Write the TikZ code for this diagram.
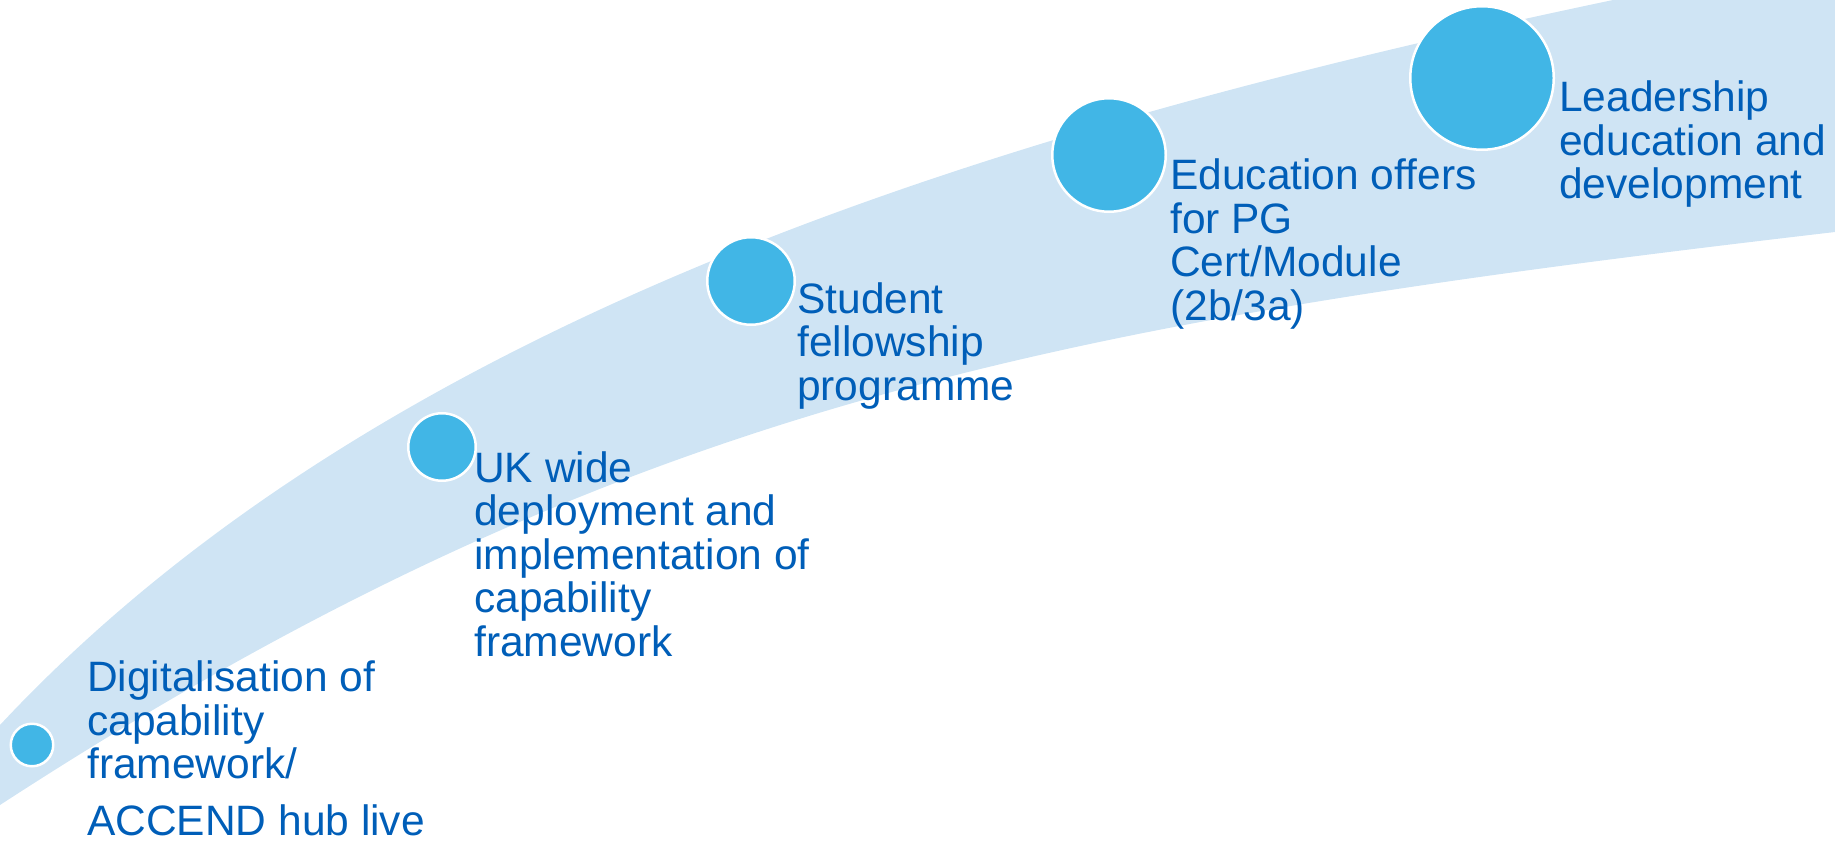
\documentclass[tikz,border=0pt]{standalone}
\usepackage{fontspec}
\setmainfont{Liberation Sans}
\usepackage{tikz}

\definecolor{bandblue}{RGB}{207,228,244}
\definecolor{dotblue}{RGB}{65,182,230}
\definecolor{textblue}{RGB}{0,94,184}

\begin{document}
\begin{tikzpicture}[x=1pt,y=-1pt,
    dot/.style={circle,fill=dotblue,draw=white,line width=2.5pt,inner sep=0pt},
    milestone/.style={anchor=base west,align=left,inner sep=0pt,text=textblue,
      font=\fontsize{42.5}{43.5}\selectfont}]
        \useasboundingbox (0,0) rectangle (1835,845);
        % Band
        \begin{scope}
        \clip (0,0) rectangle (1835,845);
        \fill[bandblue] (0,725) .. controls (380,318.4) and (993,130.2) .. (1613,0)
          -- (1835,0) -- (1835,232)
          .. controls (1055,323.3) and (620,402) .. (0,805) -- cycle;
        \end{scope}
        % Milestones
        \node[dot,minimum size=42.5pt] (c1) at (32,745) {};
        \node[dot,minimum size=67.5pt] (c2) at (442,447) {};
        \node[dot,minimum size=87.5pt] (c3) at (751,281) {};
        \node[dot,minimum size=113.5pt] (c4) at (1109,155) {};
        \node[dot,minimum size=143.5pt] (c5) at (1482,78) {};
        % Labels (anchored at the last baseline)
        \node[milestone] (t1) at (87,835) {Digitalisation of\\capability\\framework/\\[13pt]ACCEND hub live};
        \node[milestone] (t2) at (474,656) {UK wide\\deployment and\\implementation of\\capability\\framework};
        \node[milestone] (t3) at (797,400) {Student\\fellowship\\programme};
        \node[milestone] (t4) at (1170,320) {Education offers\\for PG\\Cert/Module\\(2b/3a)};
        \node[milestone] (t5) at (1559,199) {Leadership\\education and\\development};
\end{tikzpicture}
\end{document}
